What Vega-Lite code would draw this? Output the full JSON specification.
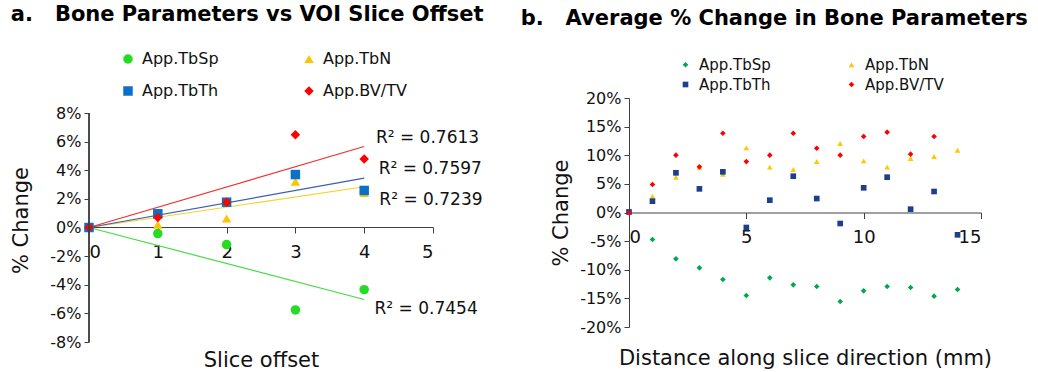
{
  "$schema": "https://vega.github.io/schema/vega-lite/v6.json",
  "background": "white",
  "padding": {"left": 10, "top": 4, "right": 0, "bottom": 0},
  "spacing": 36,
  "config": {
    "font": "DejaVu Sans",
    "view": {"stroke": null},
    "axis": {"grid": false, "domainColor": "#404040", "tickColor": "#404040", "labelColor": "#111", "titleColor": "#111", "titleFontWeight": "normal", "labelFont": "DejaVu Sans", "titleFont": "DejaVu Sans", "labelOverlap": false},
    "title": {"font": "DejaVu Sans", "fontWeight": "bold", "color": "#000", "anchor": "start", "frame": "bounds"},
    "legend": {"labelFont": "DejaVu Sans", "labelColor": "#111"}
  },
  "datasets": {
    "a_points": [
      {"offset": 0, "change": 0, "series": "App.TbSp"},
      {"offset": 1, "change": -0.42, "series": "App.TbSp"},
      {"offset": 2, "change": -1.19, "series": "App.TbSp"},
      {"offset": 3, "change": -5.76, "series": "App.TbSp"},
      {"offset": 4, "change": -4.34, "series": "App.TbSp"},
      {"offset": 0, "change": 0, "series": "App.TbN"},
      {"offset": 1, "change": 0.2, "series": "App.TbN"},
      {"offset": 2, "change": 0.63, "series": "App.TbN"},
      {"offset": 3, "change": 3.2, "series": "App.TbN"},
      {"offset": 4, "change": 2.42, "series": "App.TbN"},
      {"offset": 0, "change": 0, "series": "App.TbTh"},
      {"offset": 1, "change": 0.96, "series": "App.TbTh"},
      {"offset": 2, "change": 1.77, "series": "App.TbTh"},
      {"offset": 3, "change": 3.7, "series": "App.TbTh"},
      {"offset": 4, "change": 2.59, "series": "App.TbTh"},
      {"offset": 0, "change": 0, "series": "App.BV/TV"},
      {"offset": 1, "change": 0.7, "series": "App.BV/TV"},
      {"offset": 2, "change": 1.77, "series": "App.BV/TV"},
      {"offset": 3, "change": 6.48, "series": "App.BV/TV"},
      {"offset": 4, "change": 4.78, "series": "App.BV/TV"}
    ],
    "a_trend": [
      {"offset": 0, "change": 0, "series": "App.TbSp"},
      {"offset": 4, "change": -5.03, "series": "App.TbSp"},
      {"offset": 0, "change": 0, "series": "App.TbN"},
      {"offset": 4, "change": 2.85, "series": "App.TbN"},
      {"offset": 0, "change": 0, "series": "App.TbTh"},
      {"offset": 4, "change": 3.45, "series": "App.TbTh"},
      {"offset": 0, "change": 0, "series": "App.BV/TV"},
      {"offset": 4, "change": 5.66, "series": "App.BV/TV"}
    ],
    "a_labels": [
      {"offset": 4.92, "change": 6.25, "label": "R² = 0.7613"},
      {"offset": 4.96, "change": 4.1, "label": "R² = 0.7597"},
      {"offset": 4.97, "change": 1.93, "label": "R² = 0.7239"},
      {"offset": 4.9, "change": -5.69, "label": "R² = 0.7454"}
    ],
    "b_points": [
      {"distance": 0, "change": 0, "series": "App.TbSp"},
      {"distance": 1, "change": -4.71, "series": "App.TbSp"},
      {"distance": 2, "change": -8.09, "series": "App.TbSp"},
      {"distance": 3, "change": -9.66, "series": "App.TbSp"},
      {"distance": 4, "change": -11.7, "series": "App.TbSp"},
      {"distance": 5, "change": -14.49, "series": "App.TbSp"},
      {"distance": 6, "change": -11.41, "series": "App.TbSp"},
      {"distance": 7, "change": -12.63, "series": "App.TbSp"},
      {"distance": 8, "change": -12.92, "series": "App.TbSp"},
      {"distance": 9, "change": -15.54, "series": "App.TbSp"},
      {"distance": 10, "change": -13.68, "series": "App.TbSp"},
      {"distance": 11, "change": -12.92, "series": "App.TbSp"},
      {"distance": 12, "change": -13.1, "series": "App.TbSp"},
      {"distance": 13, "change": -14.61, "series": "App.TbSp"},
      {"distance": 14, "change": -13.45, "series": "App.TbSp"},
      {"distance": 0, "change": 0, "series": "App.TbN"},
      {"distance": 1, "change": 2.85, "series": "App.TbN"},
      {"distance": 2, "change": 6.17, "series": "App.TbN"},
      {"distance": 3, "change": 7.9, "series": "App.TbN"},
      {"distance": 4, "change": 6.69, "series": "App.TbN"},
      {"distance": 5, "change": 11.29, "series": "App.TbN"},
      {"distance": 6, "change": 7.92, "series": "App.TbN"},
      {"distance": 7, "change": 7.51, "series": "App.TbN"},
      {"distance": 8, "change": 8.9, "series": "App.TbN"},
      {"distance": 9, "change": 12.05, "series": "App.TbN"},
      {"distance": 10, "change": 9.02, "series": "App.TbN"},
      {"distance": 11, "change": 7.92, "series": "App.TbN"},
      {"distance": 12, "change": 9.43, "series": "App.TbN"},
      {"distance": 13, "change": 9.78, "series": "App.TbN"},
      {"distance": 14, "change": 10.88, "series": "App.TbN"},
      {"distance": 0, "change": 0.1, "series": "App.TbTh"},
      {"distance": 1, "change": 1.98, "series": "App.TbTh"},
      {"distance": 2, "change": 6.93, "series": "App.TbTh"},
      {"distance": 3, "change": 4.13, "series": "App.TbTh"},
      {"distance": 4, "change": 7.1, "series": "App.TbTh"},
      {"distance": 5, "change": -2.62, "series": "App.TbTh"},
      {"distance": 6, "change": 2.15, "series": "App.TbTh"},
      {"distance": 7, "change": 6.34, "series": "App.TbTh"},
      {"distance": 8, "change": 2.44, "series": "App.TbTh"},
      {"distance": 9, "change": -1.92, "series": "App.TbTh"},
      {"distance": 10, "change": 4.31, "series": "App.TbTh"},
      {"distance": 11, "change": 6.17, "series": "App.TbTh"},
      {"distance": 12, "change": 0.58, "series": "App.TbTh"},
      {"distance": 13, "change": 3.67, "series": "App.TbTh"},
      {"distance": 14, "change": -3.9, "series": "App.TbTh"},
      {"distance": 0, "change": 0, "series": "App.BV/TV"},
      {"distance": 1, "change": 4.89, "series": "App.BV/TV"},
      {"distance": 2, "change": 10.01, "series": "App.BV/TV"},
      {"distance": 3, "change": 7.97, "series": "App.BV/TV"},
      {"distance": 4, "change": 13.85, "series": "App.BV/TV"},
      {"distance": 5, "change": 8.9, "series": "App.BV/TV"},
      {"distance": 6, "change": 10.01, "series": "App.BV/TV"},
      {"distance": 7, "change": 13.85, "series": "App.BV/TV"},
      {"distance": 8, "change": 11.23, "series": "App.BV/TV"},
      {"distance": 9, "change": 10.01, "series": "App.BV/TV"},
      {"distance": 10, "change": 13.27, "series": "App.BV/TV"},
      {"distance": 11, "change": 14.03, "series": "App.BV/TV"},
      {"distance": 12, "change": 10.19, "series": "App.BV/TV"},
      {"distance": 13, "change": 13.27, "series": "App.BV/TV"}
    ]
  },
  "hconcat": [
    {
      "width": 344,
      "height": 244,
      "title": {"text": "a.\u00a0\u00a0\u00a0Bone Parameters vs VOI Slice Offset", "fontSize": 21, "offset": 26},
      "encoding": {
        "x": {"field": "offset", "type": "quantitative",
          "scale": {"domain": [0, 5], "nice": false},
          "axis": {"values": [0, 1, 2, 3, 4, 5], "tickCount": 6, "format": "d", "title": "Slice offset", "offset": -115, "labelFontSize": 18, "labelPadding": 10, "tickSize": 6, "titleFontSize": 21, "titlePadding": 88}},
        "y": {"field": "change", "type": "quantitative",
          "scale": {"domain": [-8, 9.05], "nice": false},
          "axis": {"values": [-8, -6, -4, -2, 0, 2, 4, 6, 8], "tickCount": 9, "domain": false, "labelExpr": "datum.value + '%'", "title": "% Change", "labelFontSize": 16, "labelPadding": 3, "tickSize": 5, "titleFontSize": 21, "titlePadding": 18}}
      },
      "layer": [
        {
          "data": {"name": "a_trend"},
          "mark": {"type": "line", "strokeWidth": 1.2},
          "encoding": {
            "stroke": {"field": "series", "type": "nominal", "legend": null,
              "scale": {"domain": ["App.TbSp", "App.TbN", "App.TbTh", "App.BV/TV"], "range": ["#44dd44", "#f5d327", "#3a5fb0", "#f03030"]}}
          }
        },
        {
          "data": {"name": "a_points"},
          "mark": {"type": "point", "filled": true, "opacity": 1, "size": 90},
          "encoding": {
            "color": {"field": "series", "type": "nominal",
              "scale": {"domain": ["App.TbSp", "App.TbTh", "App.TbN", "App.BV/TV"], "range": ["#22dd22", "#0a70c8", "#ffc400", "#ff0000"]},
              "legend": {"orient": "none", "legendX": 31, "legendY": -47, "columns": 2, "title": null, "labelFontSize": 16, "symbolSize": 90, "columnPadding": 82, "rowPadding": 16, "labelOffset": 6}},
            "shape": {"field": "series", "type": "nominal",
              "scale": {"domain": ["App.TbSp", "App.TbTh", "App.TbN", "App.BV/TV"], "range": ["circle", "square", "triangle-up", "diamond"]},
              "legend": {"orient": "none", "legendX": 31, "legendY": -47, "columns": 2, "title": null, "labelFontSize": 16, "symbolSize": 90, "columnPadding": 82, "rowPadding": 16, "labelOffset": 6}}
          }
        },
        {
          "data": {"name": "a_labels"},
          "mark": {"type": "text", "fontSize": 17, "align": "center", "baseline": "middle", "color": "#111"},
          "encoding": {
            "text": {"field": "label", "type": "nominal"}
          }
        },
        {
          "data": {"name": "a_labels"},
          "mark": {"type": "rule", "color": "#404040", "strokeWidth": 1},
          "encoding": {
            "x": {"datum": 0, "type": "quantitative"},
            "y": {"datum": -8, "type": "quantitative"},
            "y2": {"datum": 8}
          }
        }
      ]
    },
    {
      "width": 352,
      "height": 229,
      "title": {"text": "b.\u00a0\u00a0\u00a0Average % Change in Bone Parameters", "fontSize": 21, "offset": 28, "dx": -30},
      "data": {"name": "b_points"},
      "mark": {"type": "point", "filled": true, "opacity": 1, "size": 32},
      "encoding": {
        "x": {"field": "distance", "type": "quantitative",
          "scale": {"domain": [0, 15], "nice": false},
          "axis": {"values": [0, 5, 10, 15], "format": "d", "title": "Distance along slice direction (mm)", "offset": -114.5, "labelFontSize": 18, "labelPadding": 10, "tickSize": 6, "titleFontSize": 21, "titlePadding": 101}},
        "y": {"field": "change", "type": "quantitative",
          "scale": {"domain": [-20, 20], "nice": false},
          "axis": {"values": [-20, -15, -10, -5, 0, 5, 10, 15, 20], "labelExpr": "datum.value + '%'", "title": "% Change", "labelFontSize": 16, "labelPadding": 3, "tickSize": 5, "titleFontSize": 21, "titlePadding": 8}},
        "color": {"field": "series", "type": "nominal",
          "scale": {"domain": ["App.TbSp", "App.TbTh", "App.TbN", "App.BV/TV"], "range": ["#00a850", "#1c3e8c", "#ffc800", "#ff0000"]},
          "legend": {"orient": "none", "legendX": 49, "legendY": -41, "columns": 2, "title": null, "labelFontSize": 15, "symbolSize": 32, "columnPadding": 73, "rowPadding": 4, "labelOffset": 6}},
        "shape": {"field": "series", "type": "nominal",
          "scale": {"domain": ["App.TbSp", "App.TbTh", "App.TbN", "App.BV/TV"], "range": ["diamond", "square", "triangle-up", "diamond"]},
          "legend": {"orient": "none", "legendX": 49, "legendY": -41, "columns": 2, "title": null, "labelFontSize": 15, "symbolSize": 32, "columnPadding": 73, "rowPadding": 4, "labelOffset": 6}}
      }
    }
  ],
  "resolve": {"scale": {"color": "independent", "shape": "independent", "stroke": "independent", "x": "independent", "y": "independent"}}
}
